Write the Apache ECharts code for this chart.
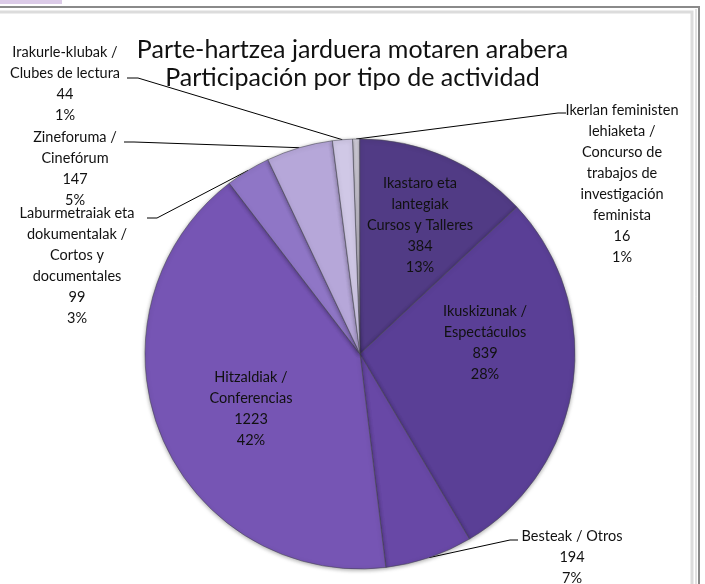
<!DOCTYPE html>
<html>
<head>
<meta charset="utf-8">
<script src="https://cdn.jsdelivr.net/npm/echarts@6/dist/echarts.min.js"></script>
<style>
html, body { margin: 0; padding: 0; background: #fff; }
#main { width: 705px; height: 584px; }
</style>
</head>
<body>
<div id="main"></div>
<script>
// data
const titleLines = ['Parte-hartzea jarduera motaren arabera', 'Participación por tipo de actividad'];
const names = [
	'Ikerlan feministen\nlehiaketa /\nConcurso de\ntrabajos de\ninvestigación\nfeminista',
	'Ikastaro eta\nlantegiak\nCursos y Talleres',
	'Ikuskizunak /\nEspectáculos',
	'Besteak / Otros',
	'Hitzaldiak /\nConferencias',
	'Laburmetraiak eta\ndokumentalak /\nCortos y\ndocumentales',
	'Zineforuma /\nCinefórum',
	'Irakurle-klubak /\nClubes de lectura'
];
const values = [16, 384, 839, 194, 1223, 99, 147, 44];
const colors = ['#d9d5e2', '#513b85', '#5a3f96', '#6848a6', '#7655b4', '#8f76c6', '#b6a7d9', '#d0c8e6'];

// where each label sits (layout only)
const labelSpots = [
	{ x: 622, y: 100, inside: false, line: [[558, 113], [566, 113]] },
	{ x: 420, y: 225, inside: true },
	{ x: 485, y: 343, inside: true },
	{ x: 572, y: 526, inside: false, line: [[510, 540], [518, 540]] },
	{ x: 251, y: 409, inside: true },
	{ x: 77, y: 203, inside: false, line: [[157, 218], [147, 218]] },
	{ x: 75, y: 127, inside: false, line: [[134, 142], [124, 142]] },
	{ x: 65, y: 42, inside: false, line: [[138, 78], [127, 78]] }
];

let myChart = echarts.init(document.getElementById('main'));

const pieData = names.map(function (n, i) {
	return {
		name: n,
		value: values[i],
		itemStyle: { color: colors[i] },
		label: { position: labelSpots[i].inside ? 'inside' : 'outside' },
		labelLine: { show: !labelSpots[i].inside }
	};
});

const option = {
	animation: false,
	title: {
		text: titleLines.join('\n'),
		left: 'center',
		top: 31,
		textStyle: {
			fontFamily: 'Lato',
			fontSize: 25,
			fontWeight: 'normal',
			color: '#111',
			lineHeight: 28
		}
	},
	graphic: [
		{ type: 'rect', shape: { x: 0, y: 0, width: 62, height: 4 }, style: { fill: '#dccbe8' } },
		{ type: 'polyline', shape: { points: [[0, 12], [692, 12], [692, 584]] }, style: { stroke: '#dcdcdc', lineWidth: 3, fill: null } },
		{ type: 'polyline', shape: { points: [[0, 7], [699, 7], [699, 584]] }, style: { stroke: '#8a8a8a', lineWidth: 2, fill: null } },
		{ type: 'line', shape: { x1: 696, y1: 9, x2: 696, y2: 584 }, style: { stroke: '#c4c4c4', lineWidth: 1 } }
	],
	series: [
		{
			type: 'pie',
			center: [360, 354],
			radius: 215,
			startAngle: 92,
			clockwise: true,
			itemStyle: {
				borderColor: 'rgba(70, 70, 80, 0.55)',
				borderWidth: 1,
				shadowBlur: 4,
				shadowColor: 'rgba(0, 0, 0, 0.35)',
				shadowOffsetY: 1
			},
			label: {
				fontFamily: 'Lato',
				fontSize: 14.5,
				lineHeight: 21,
				color: '#111',
				align: 'center',
				formatter: function (p) {
					return p.name + '\n' + p.value + '\n' + Math.round(p.percent) + '%';
				}
			},
			labelLine: {
				lineStyle: { color: '#000', width: 1 }
			},
			labelLayout: function (params) {
				const s = labelSpots[params.dataIndex];
				if (s.inside) {
					return { x: s.x, y: s.y, align: 'center', verticalAlign: 'middle' };
				}
				const out = { x: s.x, y: s.y, align: 'center', verticalAlign: 'top' };
				if (params.labelLinePoints) {
					out.labelLinePoints = [params.labelLinePoints[0], s.line[0], s.line[1]];
				}
				return out;
			},
			emphasis: { disabled: true },
			data: pieData
		}
	]
};

myChart.setOption(option);
</script>
</body>
</html>
